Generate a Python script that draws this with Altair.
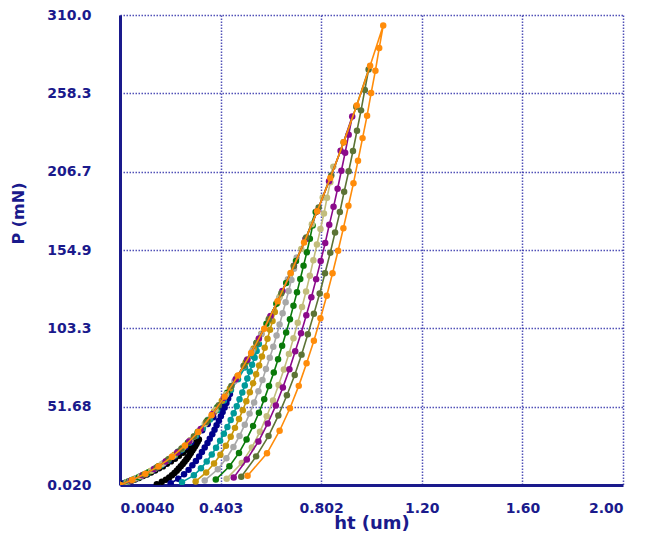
import altair as alt
import pandas as pd

# ---- data (h in um, P in mN) ----
names = ["black", "blue", "teal", "gold", "gray", "green", "khaki", "purple", "olive", "orange"]
colors = ["#000000", "#00008B", "#009A9A", "#C8960A", "#A8A8A8", "#0A7A0A", "#C2BD7C", "#8B0A8B", "#5C7335", "#FF8C0A"]

black_h = [0.004, 0.016, 0.032, 0.048, 0.063, 0.079, 0.095, 0.111, 0.127, 0.143, 0.159, 0.174, 0.190, 0.206, 0.222, 0.238, 0.254, 0.269, 0.285, 0.301, 0.317,
           0.312, 0.307, 0.302, 0.296, 0.291, 0.285, 0.279, 0.273, 0.267, 0.260, 0.253, 0.245, 0.237, 0.229, 0.220, 0.210, 0.199, 0.186, 0.170, 0.150]
black_p = [0.02, 0.9, 1.7, 2.7, 3.7, 4.7, 5.9, 7.0, 8.3, 9.6, 11.0, 12.3, 14.0, 15.6, 17.3, 19.3, 21.3, 23.2, 25.5, 27.8, 30.0,
           28.5, 27.1, 25.6, 24.1, 22.7, 21.2, 19.7, 18.2, 16.8, 15.3, 13.8, 12.4, 10.9, 9.4, 8.0, 6.5, 5.0, 3.5, 2.1, 0.6]

blue_h = [0.004, 0.022, 0.044, 0.066, 0.088, 0.110, 0.132, 0.154, 0.176, 0.198, 0.220, 0.242, 0.264, 0.286, 0.308, 0.330, 0.352, 0.374, 0.396, 0.418, 0.440,
          0.433, 0.426, 0.419, 0.411, 0.404, 0.396, 0.387, 0.379, 0.370, 0.360, 0.351, 0.340, 0.329, 0.318, 0.305, 0.291, 0.276, 0.258, 0.235, 0.205]
blue_p = [0.02, 1.3, 2.7, 4.2, 5.8, 7.5, 9.5, 11.5, 13.8, 16.2, 19.0, 22.3, 25.0, 28.2, 32.3, 36.1, 40.3, 44.7, 49.7, 54.6, 60.0,
          57.1, 54.1, 51.2, 48.2, 45.3, 42.4, 39.4, 36.5, 33.5, 30.6, 27.7, 24.7, 21.8, 18.8, 15.9, 13.0, 10.0, 7.1, 4.1, 1.2]

teal_h = [0.004, 0.028, 0.056, 0.083, 0.111, 0.139, 0.167, 0.194, 0.222, 0.250, 0.278, 0.305, 0.333, 0.361, 0.389, 0.416, 0.444, 0.472, 0.500, 0.527, 0.555,
          0.546, 0.538, 0.528, 0.519, 0.509, 0.499, 0.489, 0.478, 0.467, 0.455, 0.443, 0.430, 0.416, 0.401, 0.385, 0.368, 0.348, 0.325, 0.297, 0.250]
teal_p = [0.02, 1.6, 3.6, 5.6, 7.8, 10.4, 13.1, 16.2, 19.7, 23.5, 27.9, 32.5, 37.6, 43.2, 49.4, 55.8, 62.7, 69.8, 77.5, 85.3, 93.0,
          88.4, 83.9, 79.3, 74.8, 70.2, 65.7, 61.1, 56.5, 52.0, 47.4, 42.9, 38.3, 33.8, 29.2, 24.6, 20.1, 15.5, 11.0, 6.4, 1.9]

gold_h = [0.004, 0.031, 0.063, 0.094, 0.126, 0.157, 0.188, 0.220, 0.251, 0.283, 0.314, 0.345, 0.377, 0.408, 0.440, 0.471, 0.502, 0.534, 0.565, 0.597, 0.628,
          0.618, 0.609, 0.599, 0.589, 0.578, 0.567, 0.556, 0.544, 0.532, 0.519, 0.505, 0.491, 0.476, 0.460, 0.443, 0.424, 0.402, 0.377, 0.346, 0.304]
gold_p = [0.02, 1.9, 4.1, 6.5, 9.3, 12.4, 15.9, 19.9, 24.4, 29.6, 35.1, 41.3, 48.3, 55.6, 63.7, 71.9, 80.6, 90.1, 99.8, 110.2, 120.0,
          114.1, 108.2, 102.4, 96.5, 90.6, 84.7, 78.8, 73.0, 67.1, 61.2, 55.3, 49.4, 43.6, 37.7, 31.8, 25.9, 20.0, 14.2, 8.3, 2.4]

gray_h = [0.004, 0.035, 0.071, 0.106, 0.141, 0.176, 0.212, 0.247, 0.282, 0.317, 0.353, 0.388, 0.423, 0.458, 0.494, 0.529, 0.564, 0.599, 0.635, 0.670, 0.705,
          0.694, 0.684, 0.673, 0.661, 0.649, 0.637, 0.625, 0.612, 0.598, 0.583, 0.569, 0.553, 0.536, 0.518, 0.499, 0.478, 0.454, 0.426, 0.392, 0.340]
gray_p = [0.02, 2.2, 4.7, 7.5, 10.7, 14.4, 18.9, 23.8, 29.4, 35.7, 43.0, 50.8, 59.3, 68.4, 78.3, 88.6, 99.5, 110.9, 123.3, 135.8, 150.0,
          142.7, 135.3, 128.0, 120.6, 113.3, 105.9, 98.6, 91.2, 83.9, 76.5, 69.2, 61.8, 54.5, 47.1, 39.8, 32.4, 25.1, 17.7, 10.4, 3.0]

green_h = [0.004, 0.039, 0.078, 0.117, 0.156, 0.195, 0.234, 0.273, 0.312, 0.351, 0.390, 0.429, 0.468, 0.507, 0.546, 0.585, 0.624, 0.663, 0.702, 0.741, 0.780,
           0.768, 0.757, 0.745, 0.732, 0.719, 0.706, 0.692, 0.678, 0.663, 0.647, 0.631, 0.614, 0.595, 0.576, 0.555, 0.532, 0.506, 0.476, 0.438, 0.384]
green_p = [0.02, 2.5, 5.2, 8.5, 12.2, 16.7, 21.9, 27.9, 34.8, 42.5, 51.3, 60.8, 71.1, 82.1, 93.8, 106.3, 119.5, 133.3, 147.8, 162.6, 180.0,
           171.2, 162.4, 153.5, 144.7, 135.9, 127.1, 118.3, 109.4, 100.6, 91.8, 83.0, 74.2, 65.3, 56.5, 47.7, 38.9, 30.1, 21.2, 12.4, 3.6]

khaki_h = [0.004, 0.043, 0.085, 0.128, 0.170, 0.213, 0.255, 0.298, 0.340, 0.383, 0.425, 0.468, 0.510, 0.553, 0.595, 0.638, 0.680, 0.723, 0.765, 0.808, 0.850,
           0.838, 0.825, 0.813, 0.799, 0.785, 0.771, 0.757, 0.742, 0.726, 0.709, 0.692, 0.674, 0.654, 0.633, 0.611, 0.586, 0.559, 0.527, 0.487, 0.427]
khaki_p = [0.02, 2.7, 5.8, 9.5, 13.8, 19.0, 25.0, 32.2, 40.3, 49.7, 59.8, 71.1, 83.0, 96.0, 109.6, 124.4, 139.5, 155.7, 172.0, 189.7, 210.0,
           199.7, 189.4, 179.1, 168.8, 158.6, 148.3, 138.0, 127.7, 117.4, 107.1, 96.8, 86.5, 76.2, 65.9, 55.7, 45.4, 35.1, 24.8, 14.5, 4.2]

purple_h = [0.004, 0.046, 0.093, 0.139, 0.185, 0.231, 0.278, 0.324, 0.370, 0.416, 0.463, 0.509, 0.555, 0.601, 0.648, 0.694, 0.740, 0.786, 0.833, 0.879, 0.925,
            0.911, 0.897, 0.882, 0.867, 0.851, 0.834, 0.818, 0.800, 0.782, 0.763, 0.743, 0.722, 0.699, 0.676, 0.650, 0.622, 0.590, 0.553, 0.507, 0.455]
purple_p = [0.02, 2.9, 6.4, 10.5, 15.5, 21.5, 28.7, 37.0, 46.7, 57.6, 69.8, 82.7, 96.6, 111.5, 127.9, 144.7, 162.2, 180.5, 200.3, 220.5, 243.0,
            231.1, 219.2, 207.3, 195.4, 183.5, 171.6, 159.7, 147.7, 135.8, 123.9, 112.0, 100.1, 88.2, 76.3, 64.4, 52.5, 40.6, 28.7, 16.8, 4.9]

olive_h = [0.004, 0.050, 0.099, 0.149, 0.198, 0.248, 0.297, 0.347, 0.396, 0.446, 0.495, 0.545, 0.594, 0.644, 0.693, 0.743, 0.792, 0.842, 0.891, 0.941, 0.990,
           0.975, 0.960, 0.944, 0.928, 0.911, 0.893, 0.876, 0.857, 0.838, 0.817, 0.796, 0.773, 0.749, 0.724, 0.697, 0.666, 0.632, 0.593, 0.544, 0.485]
olive_p = [0.02, 3.2, 6.9, 11.5, 17.1, 23.9, 32.0, 41.7, 52.7, 65.3, 78.6, 93.5, 109.2, 126.5, 144.4, 163.3, 183.0, 204.2, 226.0, 249.5, 274.0,
           260.6, 247.1, 233.7, 220.3, 206.9, 193.4, 180.0, 166.6, 153.2, 139.7, 126.3, 112.9, 99.5, 86.0, 72.6, 59.2, 45.8, 32.3, 18.9, 5.5]

orange_h = [0.004, 0.052, 0.105, 0.157, 0.210, 0.262, 0.314, 0.367, 0.419, 0.472, 0.524, 0.576, 0.629, 0.681, 0.734, 0.786, 0.838, 0.891, 0.943, 0.996, 1.048,
            1.032, 1.017, 1.000, 0.984, 0.966, 0.948, 0.930, 0.910, 0.890, 0.869, 0.847, 0.824, 0.799, 0.773, 0.744, 0.713, 0.678, 0.637, 0.587, 0.510]
orange_p = [0.02, 3.3, 7.4, 12.3, 18.6, 26.1, 34.9, 46.0, 58.3, 72.2, 87.1, 103.1, 121.2, 139.8, 160.0, 180.5, 202.5, 226.0, 250.4, 276.6, 303.0,
            288.2, 273.3, 258.5, 243.6, 228.8, 213.9, 199.1, 184.2, 169.4, 154.5, 139.7, 124.8, 110.0, 95.1, 80.3, 65.4, 50.6, 35.8, 20.9, 6.1]

x_ticks = [0.004, 0.403, 0.802, 1.201, 1.6, 1.999]
y_ticks = [0.02, 51.68, 103.34, 155.0, 206.66, 258.32, 310.0]

series_h = [black_h, blue_h, teal_h, gold_h, gray_h, green_h, khaki_h, purple_h, olive_h, orange_h]
series_p = [black_p, blue_p, teal_p, gold_p, gray_p, green_p, khaki_p, purple_p, olive_p, orange_p]

rows = []
for name, hs, ps in zip(names, series_h, series_p):
    for i, (h, p) in enumerate(zip(hs, ps)):
        rows.append({"s": name, "i": i, "h": h, "P": p})
df = pd.DataFrame(rows)

NAVY = "#1a1a8c"
FONT = "DejaVu Sans"

x_enc = alt.X(
    "h:Q",
    scale=alt.Scale(domain=[0.004, 1.999], nice=False, zero=False),
    axis=alt.Axis(
        values=x_ticks,
        labelExpr="datum.value < 0.01 ? '0.0040' : datum.value < 0.5 ? '0.403' : datum.value < 1 ? '0.802' : format(datum.value, '.2f')",
        title="ht (um)",
        titleY=38,
        titleBaseline="middle",
        titleFontSize=18,
    ),
)
y_enc = alt.Y(
    "P:Q",
    scale=alt.Scale(domain=[0.02, 310.0], nice=False, zero=False),
    axis=alt.Axis(
        values=y_ticks,
        labelExpr="datum.value < 1 ? '0.020' : datum.value < 60 ? '51.68' : datum.value < 110 ? '103.3' : datum.value < 160 ? '154.9' : datum.value < 210 ? '206.7' : datum.value < 300 ? '258.3' : '310.0'",
        title="P (mN)",
        titleX=-102,
        titleY=198,
        titleAngle=270,
        titleAlign="center",
        titleBaseline="middle",
        titleFontSize=16,
    ),
)

layers = []
for name, col in zip(names, colors):
    layers.append(
        alt.Chart(df)
        .transform_filter(alt.datum.s == name)
        .mark_line(color=col, strokeWidth=1.6, clip=True,
                   point=alt.OverlayMarkDef(color=col, size=42, filled=True, opacity=1))
        .encode(x=x_enc, y=y_enc, order="i:Q")
    )

chart = (
    alt.layer(*layers)
    .properties(
        width=503,
        height=470,
        autosize=alt.AutoSizeParams(type="none"),
        padding={"left": 112, "top": 7, "right": 23, "bottom": 48},
    )
    .configure_view(stroke=None)
    .configure_axis(
        labelFont=FONT,
        labelFontSize=14,
        labelFontWeight="bold",
        labelColor=NAVY,
        titleFont=FONT,
        titleFontWeight="bold",
        titleColor=NAVY,
        ticks=False,
        domainColor=NAVY,
        domainWidth=3,
        grid=True,
        gridColor="#3333aa",
        gridDash=[1.5, 1.5],
        gridWidth=1.5,
        gridOpacity=0.85,
    )
    .configure_axisX(labelPadding=16)
    .configure_axisY(labelPadding=29)
)

chart.save("out.html", embed_options={"renderer": "svg", "actions": False})
